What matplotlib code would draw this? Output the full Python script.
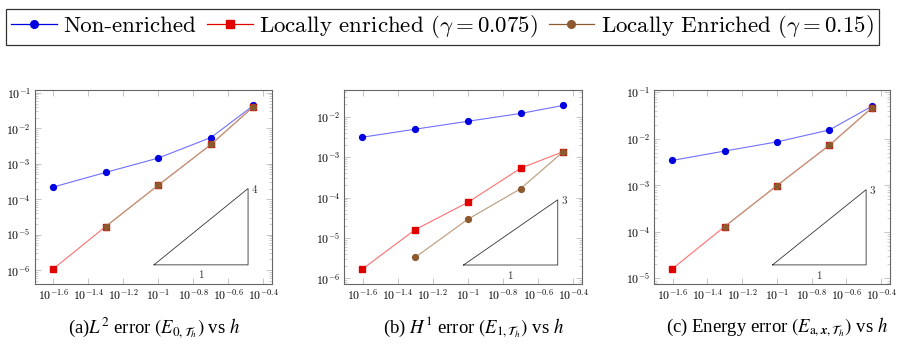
import numpy as np
import matplotlib
matplotlib.use("Agg")
import matplotlib.pyplot as plt
from matplotlib.ticker import FixedLocator, FixedFormatter, LogLocator, NullFormatter, NullLocator
from matplotlib.lines import Line2D

plt.rcParams['mathtext.fontset'] = 'cm'
plt.rcParams['axes.unicode_minus'] = True

# mesh size h
h = [0.025, 0.05, 0.1, 0.2, 0.35]
xtick_exp = [-1.6, -1.4, -1.2, -1.0, -0.8, -0.6, -0.4]

# (a) L2 error
l2_non = [2.2e-4, 5.7e-4, 1.45e-3, 5.5e-3, 4.4e-2]
l2_loc1 = [1.07e-6, 1.7e-5, 2.5e-4, 3.5e-3, 4.1e-2]
l2_loc2 = [np.nan, 1.7e-5, 2.5e-4, 3.5e-3, 4.1e-2]

# (b) H1 error
h1_non = [3.1e-3, 4.9e-3, 7.7e-3, 1.2e-2, 1.9e-2]
h1_loc1 = [1.7e-6, 1.6e-5, 7.6e-5, 5.3e-4, 1.36e-3]
h1_loc2 = [np.nan, 3.3e-6, 2.9e-5, 1.65e-4, 1.36e-3]

# (c) energy error
en_non = [3.4e-3, 5.4e-3, 8.5e-3, 1.53e-2, 4.9e-2]
en_loc1 = [1.6e-5, 1.29e-4, 9.8e-4, 7.2e-3, 4.5e-2]
en_loc2 = [np.nan, 1.29e-4, 9.8e-4, 7.2e-3, 4.5e-2]

captions = [r"(a)$L^2$ error $(E_{0,\mathcal{T}_h})$ vs $h$",
            r"(b) $H^1$ error $(E_{1,\mathcal{T}_h})$ vs $h$",
            r"(c) Energy error $(E_{\mathrm{a},\boldsymbol{x},\mathcal{T}_h})$ vs $h$"]
slopes = [4, 3, 3]
tri_base = [10**-5.85, 10**-5.67, 10**-4.71]
ylims = [(10**-6.39, 10**-0.92), (10**-6.14, 10**-1.34), (10**-5.12, 10**-0.957)]
yticks = [[1e-6, 1e-5, 1e-4, 1e-3, 1e-2, 1e-1],
          [1e-6, 1e-5, 1e-4, 1e-3, 1e-2],
          [1e-5, 1e-4, 1e-3, 1e-2, 1e-1]]

data = [(l2_non, l2_loc1, l2_loc2), (h1_non, h1_loc1, h1_loc2), (en_non, en_loc1, en_loc2)]

fig = plt.figure(figsize=(9.11, 3.44), dpi=100)
lefts = [0.0384, 0.378, 0.7182]
widths = [0.2602, 0.2606, 0.2587]

for i in range(3):
    ax = fig.add_axes([lefts[i], 0.1744, widths[i], 0.564])
    non, loc1, loc2 = data[i]
    ax.plot(h, non, color='#7070ff', lw=0.8, marker='o', ms=4.2,
            mfc='#0000e0', mec='#0000e0', zorder=3)
    ax.plot(h, loc1, color='#ff7070', lw=0.8, marker='s', ms=4.2,
            mfc='#e00000', mec='#e00000', zorder=3)
    ax.plot(h, loc2, color='#b89a7a', lw=0.8, marker='o', ms=4.2,
            mfc='#8c5a2e', mec='#8c5a2e', zorder=4)
    ax.set_xscale('log')
    ax.set_yscale('log')
    ax.set_xlim(10**-1.705, 10**-0.35)
    ax.set_ylim(*ylims[i])

    # slope triangle
    x0, x1 = 10**-1.025, 10**-0.487
    y0 = tri_base[i]
    y1 = y0 * (x1 / x0)**slopes[i]
    ax.plot([x0, x1, x1, x0], [y0, y0, y1, y0], color='#333333', lw=0.6, zorder=2)
    ax.text(x1 * 1.04, y1, "$%d$" % slopes[i], fontsize=8, va='center', ha='left', color='#333333')
    ax.text(np.sqrt(x0 * x1), y0 / 1.25, "$1$", fontsize=8, va='top', ha='center', color='#333333')

    ax.xaxis.set_major_locator(FixedLocator([10**e for e in xtick_exp]))
    ax.xaxis.set_major_formatter(FixedFormatter([r"$10^{%g}$" % e for e in xtick_exp]))
    ax.xaxis.set_minor_locator(NullLocator())
    ax.yaxis.set_major_locator(FixedLocator(yticks[i]))
    ax.yaxis.set_major_formatter(FixedFormatter([r"$10^{%d}$" % int(np.log10(t)) for t in yticks[i]]))
    ax.yaxis.set_minor_locator(LogLocator(base=10, subs=np.arange(2, 10), numticks=20))
    ax.yaxis.set_minor_formatter(NullFormatter())
    ax.tick_params(which='both', direction='in', top=True, right=True, color='#bbbbbb')
    ax.tick_params(which='major', length=4, width=0.6, labelsize=8.5, pad=3)
    ax.tick_params(which='minor', length=2.5, width=0.5)
    for s in ax.spines.values():
        s.set_color('#666666')
        s.set_linewidth(0.8)

    cx = lefts[i] + widths[i] / 2 + [0.001, 0.012, 0.005][i]
    fig.text(cx, 0.047, captions[i], ha='center', va='center', fontsize=13.5,
             family='Liberation Serif', math_fontfamily='stix')

handles = [
    Line2D([], [], color='#0000e0', lw=0.9, marker='o', ms=5.5),
    Line2D([], [], color='#e00000', lw=0.9, marker='s', ms=5.5),
    Line2D([], [], color='#8c5a2e', lw=0.9, marker='o', ms=5.5),
]
labels = ["Non-enriched", r"Locally enriched ($\gamma = 0.075$)",
          r"Locally Enriched ($\gamma = 0.15$)"]
leg = fig.legend(handles, labels, loc='upper left', bbox_to_anchor=(0.007, 0.975),
                 ncol=3, frameon=True, fancybox=False, edgecolor='black',
                 prop={'family': 'cmr10', 'size': 16.5}, handlelength=2.0,
                 handletextpad=0.3, columnspacing=0.45, borderpad=0.2,
                 borderaxespad=0.0)
leg.get_frame().set_linewidth(0.9)

fig.savefig("out.png", dpi=100)
